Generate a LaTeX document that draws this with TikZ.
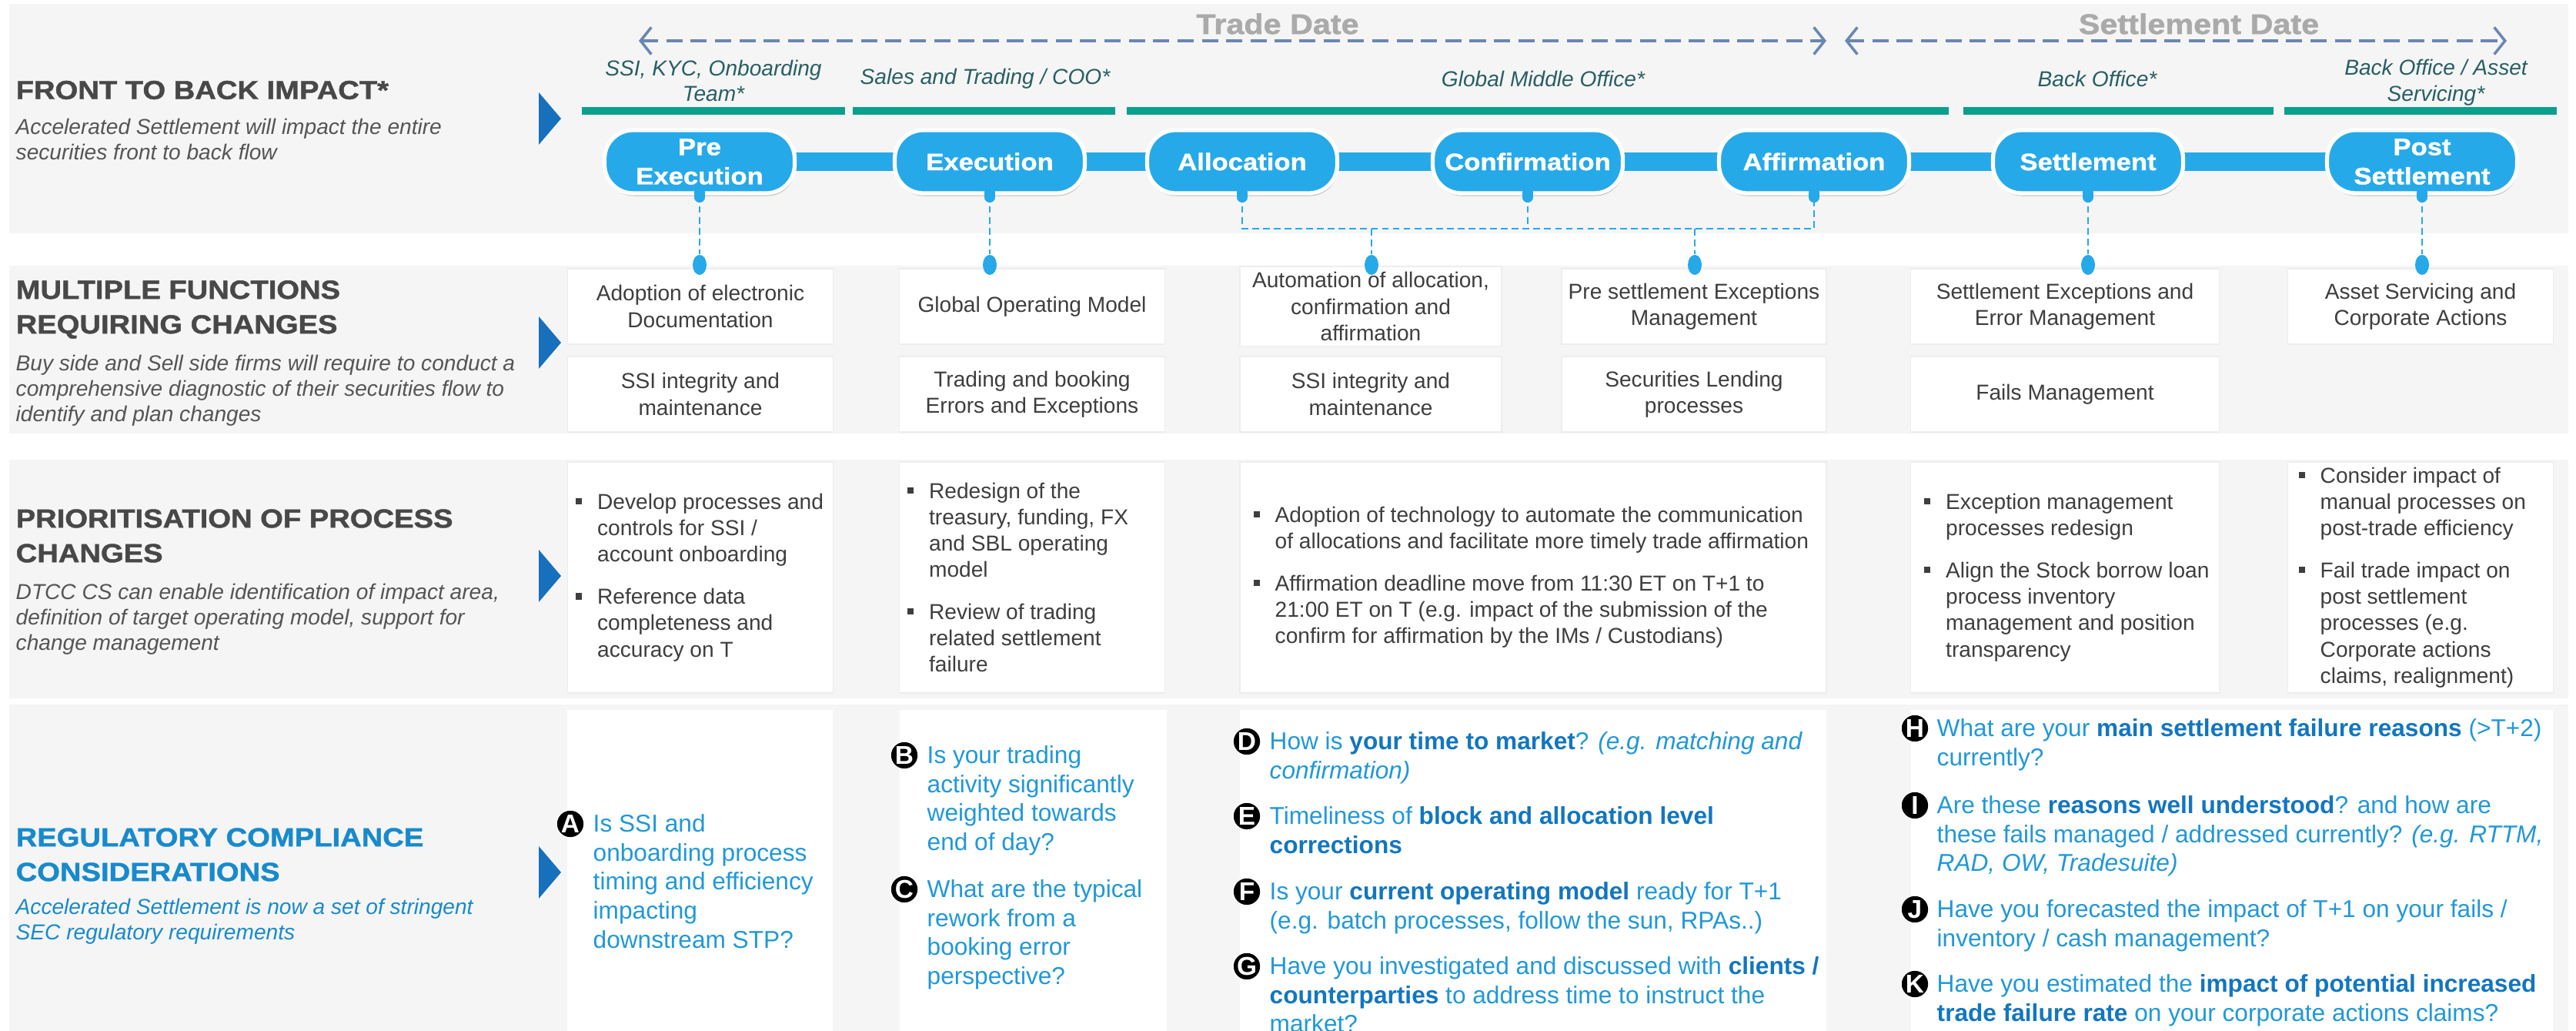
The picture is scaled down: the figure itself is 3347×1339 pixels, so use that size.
\documentclass[tikz,border=0pt]{standalone}
\usepackage{fontspec}
\setmainfont{Liberation Sans}
\newfontfamily\headfont[FakeStretch=1.12,FakeBold=1.3]{Liberation Sans Bold}
\usetikzlibrary{arrows.meta,shadows,shapes.geometric}

\definecolor{bandgray}{RGB}{245,245,245}
\definecolor{tealbar}{RGB}{10,160,142}
\definecolor{teamtxt}{RGB}{40,95,100}
\definecolor{pillblue}{RGB}{38,169,232}
\definecolor{triblue}{RGB}{22,112,188}
\definecolor{headgray}{RGB}{72,72,72}
\definecolor{subgray}{RGB}{85,85,85}
\definecolor{bodygray}{RGB}{62,62,62}
\definecolor{regblue}{RGB}{32,152,216}
\definecolor{regbold}{RGB}{18,118,192}
\definecolor{reghead}{RGB}{24,138,204}
\definecolor{dategray}{RGB}{170,170,170}
\definecolor{datearr}{RGB}{105,135,180}

\newcommand{\hl}[1]{\textbf{\color{regbold}#1}}
\newcommand{\bul}{\makebox[8pt][l]{\rule[1.8pt]{2.3pt}{2.3pt}}}
\newcommand{\ind}{\hspace*{8pt}}

\begin{document}
\begin{tikzpicture}[x=0.1mm, y=-0.1mm, line cap=butt,
  heading/.style={anchor=west, align=left, inner sep=0pt, text=headgray, font=\headfont\fontsize{9.7}{12.8}\selectfont},
  subline/.style={anchor=west, align=left, inner sep=0pt, text=subgray, font=\itshape\fontsize{8}{9.4}\selectfont},
  team/.style={align=center, inner sep=0pt, text=teamtxt, font=\itshape\fontsize{8}{9.6}\selectfont},
  datelabel/.style={inner sep=0pt, text=dategray, font=\headfont\fontsize{10.5}{12}\selectfont},
  datearrow/.style={datearr, line width=1pt, dash pattern=on 6pt off 3pt, {Straight Barb[length=4pt,width=10pt]}-{Straight Barb[length=4pt,width=10pt]}},
  spine/.style={pillblue, line width=0.24cm},
  pill/.style={draw=white, line width=1.5pt, fill=pillblue, rounded corners=0.37cm, minimum width=2.47cm, minimum height=0.82cm, inner sep=1pt, align=center, text=white, font=\headfont\fontsize{8.8}{10.8}\selectfont, drop shadow={shadow xshift=0.3pt, shadow yshift=-1pt, opacity=0.3, fill=black!60!brown}},
  tab/.style={pillblue, line width=4pt, line cap=round},
  link/.style={pillblue, line width=0.6pt, dash pattern=on 2.5pt off 1.5pt},
  dot/.style={ellipse, fill=pillblue, minimum width=0.18cm, minimum height=0.26cm, inner sep=0pt},
  fbox/.style={draw=black!7, fill=white, minimum height=0.98cm, inner sep=2pt, align=center, text=bodygray, font=\fontsize{8}{9.8}\selectfont},
  pbox/.style={draw=black!7, fill=white, minimum height=3cm, inner sep=0pt},
  ptext/.style={anchor=west, align=left, inner sep=0pt, text=bodygray, font=\fontsize{8}{9.7}\selectfont},
  badge/.style={circle, fill=black, draw=white, line width=0.4pt, minimum size=0.36cm, inner sep=0pt, text=white, font=\bfseries\fontsize{9.5}{9.5}\selectfont},
  question/.style={anchor=north west, align=left, inner sep=0pt, text=regblue, font=\fontsize{9}{10.7}\selectfont},
  tri/.style={triblue}
]
\useasboundingbox (0,0) rectangle (3347,1339);
\fill[white] (0,0) rectangle (3347,1339);

% bands
\fill[bandgray] (12,5) rectangle (3337,303);
\fill[bandgray] (12,345) rectangle (3337,563);
\fill[bandgray] (12,597) rectangle (3337,907);
\fill[bandgray] (12,915) rectangle (3337,1339);

% left labels
\node[heading] (h1) at (20,117) {FRONT TO BACK IMPACT*};
\node[subline] (s1) at (20,181) {Accelerated Settlement will impact the entire\\securities front to back flow};
\node[heading] (h2) at (20,402) {MULTIPLE FUNCTIONS\\REQUIRING CHANGES};
\node[subline] (s2) at (20,507) {Buy side and Sell side firms will require to conduct a\\comprehensive diagnostic of their securities flow to\\identify and plan changes};
\node[heading] (h3) at (20,696) {PRIORITISATION OF PROCESS\\CHANGES};
\node[subline] (s3) at (20,804) {DTCC CS can enable identification of impact area,\\definition of target operating model, support for\\change management};
\node[heading, text=reghead] (h4) at (20,1110) {REGULATORY COMPLIANCE\\CONSIDERATIONS};
\node[subline, text=reghead] (s4) at (20,1197) {Accelerated Settlement is now a set of stringent\\SEC regulatory requirements};

% triangles
\foreach \ty in {154,445,748,1133}
  \fill[tri] (700,\ty-34) -- (729,\ty) -- (700,\ty+34) -- cycle;

% trade date / settlement date
\node[datelabel] (tdl) at (1660,31) {Trade Date};
\node[datelabel] (sdl) at (2857,31) {Settlement Date};
\coordinate (td0) at (830,53);
\coordinate (td1) at (2373,53);
\coordinate (sd0) at (2397,53);
\coordinate (sd1) at (3257,53);
\draw[datearrow] (td0) -- (td1);
\draw[datearrow] (sd0) -- (sd1);

% teams
\node[team] (t1) at (927,105) {SSI, KYC, Onboarding\\Team*};
\node[team] (t2) at (1280,102) {Sales and Trading / COO*};
\node[team] (t3) at (2005,102) {Global Middle Office*};
\node[team] (t4) at (2725,102) {Back Office*};
\node[team] (t5) at (3165,107) {Back Office / Asset\\Servicing*};
\fill[tealbar] (756,139) rectangle (1098,149);
\fill[tealbar] (1108,139) rectangle (1449,149);
\fill[tealbar] (1464,139) rectangle (2532,149);
\fill[tealbar] (2551,139) rectangle (2954,149);
\fill[tealbar] (2968,139) rectangle (3322,149);

% process flow
\coordinate (tl0) at (909,210);
\coordinate (tl1) at (3147,210);
\draw[spine] (tl0) -- (tl1);
\node[pill] (pre) at (tl0) {Pre\\Execution};
\node[pill] (exe) at (1286,210) {Execution};
\node[pill] (alc) at (1614,210) {Allocation};
\node[pill] (cnf) at (1985,210) {Confirmation};
\node[pill] (aff) at (2357,210) {Affirmation};
\node[pill] (stl) at (2713,210) {Settlement};
\node[pill] (pst) at (tl1) {Post\\Settlement};

% functions
\node[fbox, minimum width=3.45cm] (f1) at (910,398) {Adoption of electronic\\Documentation};
\node[fbox, minimum width=3.45cm] (f1b) at (910,512) {SSI integrity and\\maintenance};
\node[fbox, minimum width=3.45cm] (f2) at (1341,398) {Global Operating Model};
\node[fbox, minimum width=3.45cm] (f2b) at (1341,512) {Trading and booking\\Errors and Exceptions};
\node[fbox, minimum width=3.40cm] (f3) at (1781,398) {Automation of allocation,\\confirmation and\\affirmation};
\node[fbox, minimum width=3.40cm] (f3b) at (1781,512) {SSI integrity and\\maintenance};
\node[fbox, minimum width=3.44cm] (f4) at (2201,398) {Pre settlement Exceptions\\Management};
\node[fbox, minimum width=3.44cm] (f4b) at (2201,512) {Securities Lending\\processes};
\node[fbox, minimum width=4.01cm] (f5) at (2683,398) {Settlement Exceptions and\\Error Management};
\node[fbox, minimum width=4.01cm] (f5b) at (2683,512) {Fails Management};
\node[fbox, minimum width=3.45cm] (f6) at (3145,398) {Asset Servicing and\\Corporate Actions};

% dots on the function boxes
\node[dot] (d1) at (909,344) {};
\node[dot] (d2) at (1286,344) {};
\node[dot] (d3) at (1782,344) {};
\node[dot] (d4) at (2202,344) {};
\node[dot] (d5) at (2713,344) {};
\node[dot] (d6) at (3147,344) {};

% links
\foreach \p in {pre,exe,alc,cnf,aff,stl,pst}
  \draw[tab] ([yshift=1pt]\p.south) -- ++(0,6);
\coordinate (gy) at (0,297);
\draw[link] (pre.south) -- (d1);
\draw[link] (exe.south) -- (d2);
\draw[link] (alc.south) -- (alc.south |- gy) -- (aff.south |- gy) -- (aff.south);
\draw[link] (cnf.south) -- (cnf.south |- gy);
\draw[link] (d3 |- gy) -- (d3);
\draw[link] (d4 |- gy) -- (d4);
\draw[link] (stl.south) -- (d5);
\draw[link] (pst.south) -- (d6);

% process changes
\node[pbox, minimum width=3.45cm] (p1) at (910,750) {};
\node[pbox, minimum width=3.45cm] (p2) at (1341,750) {};
\node[pbox, minimum width=7.62cm] (p3) at (1992,750) {};
\node[pbox, minimum width=4.01cm] (p5) at (2683,750) {};
\node[pbox, minimum width=3.45cm] (p6) at (3145,750) {};
\node[ptext] (p1t) at ([xshift=3pt]p1.west) {\bul Develop processes and\\\ind controls for SSI /\\\ind account onboarding\\[6pt]\bul Reference data\\\ind completeness and\\\ind accuracy on T};
\node[ptext] (p2t) at ([xshift=3pt]p2.west) {\bul Redesign of the\\\ind treasury, funding, FX\\\ind and SBL operating\\\ind model\\[6pt]\bul Review of trading\\\ind related settlement\\\ind failure};
\node[ptext] (p3t) at ([xshift=5pt]p3.west) {\bul Adoption of technology to automate the communication\\\ind of allocations and facilitate more timely trade affirmation\\[6pt]\bul Affirmation deadline move from 11:30 ET on T+1 to\\\ind 21:00 ET on T (e.g. impact of the submission of the\\\ind confirm for affirmation by the IMs / Custodians)};
\node[ptext] (p5t) at ([xshift=5pt]p5.west) {\bul Exception management\\\ind processes redesign\\[6pt]\bul Align the Stock borrow loan\\\ind process inventory\\\ind management and position\\\ind transparency};
\node[ptext] (p6t) at ([xshift=4pt]p6.west) {\bul Consider impact of\\\ind manual processes on\\\ind post-trade efficiency\\[6pt]\bul Fail trade impact on\\\ind post settlement\\\ind processes (e.g.\\\ind Corporate actions\\\ind claims, realignment)};

% regulatory questions
\fill[white] (737,922) rectangle (1082,1339);
\fill[white] (1169,922) rectangle (1516,1339);
\fill[white] (1611,922) rectangle (2373,1339);
\fill[white] (2483,922) rectangle (3317,1339);

\node[badge] (ba) at (741,1070) {A};
\node[question] (qa) at (770,1057) {Is SSI and\\onboarding process\\timing and efficiency\\impacting\\downstream STP?};
\node[badge] (bb) at (1175,981) {B};
\node[question] (qb) at (1204,968) {Is your trading\\activity significantly\\weighted towards\\end of day?};
\node[badge] (bc) at (1175,1155) {C};
\node[question] (qc) at (1204,1142) {What are the typical\\rework from a\\booking error\\perspective?};
\node[badge] (bd) at (1620,963) {D};
\node[question] (qd) at (1649,950) {How is \hl{your time to market}? \textit{(e.g. matching and}\\\textit{confirmation)}};
\node[badge] (be) at (1620,1060) {E};
\node[question] (qe) at (1649,1047) {Timeliness of \hl{block and allocation level}\\\hl{corrections}};
\node[badge] (bf) at (1620,1158) {F};
\node[question] (qf) at (1649,1145) {Is your \hl{current operating model} ready for T+1\\(e.g. batch processes, follow the sun, RPAs..)};
\node[badge] (bg) at (1620,1255) {G};
\node[question] (qg) at (1649,1242) {Have you investigated and discussed with \hl{clients /}\\\hl{counterparties} to address time to instruct the\\market?};
\node[badge] (bh) at (2488,946) {H};
\node[question] (qh) at (2516,933) {What are your \hl{main settlement failure reasons} (>T+2)\\currently?};
\node[badge] (bi) at (2488,1046) {I};
\node[question] (qi) at (2516,1033) {Are these \hl{reasons well understood}? and how are\\these fails managed / addressed currently? \textit{(e.g. RTTM,}\\\textit{RAD, OW, Tradesuite)}};
\node[badge] (bj) at (2488,1181) {J};
\node[question] (qj) at (2516,1168) {Have you forecasted the impact of T+1 on your fails /\\inventory / cash management?};
\node[badge] (bk) at (2488,1278) {K};
\node[question] (qk) at (2516,1265) {Have you estimated the \hl{impact of potential increased}\\\hl{trade failure rate} on your corporate actions claims?};

\end{tikzpicture}
\end{document}
